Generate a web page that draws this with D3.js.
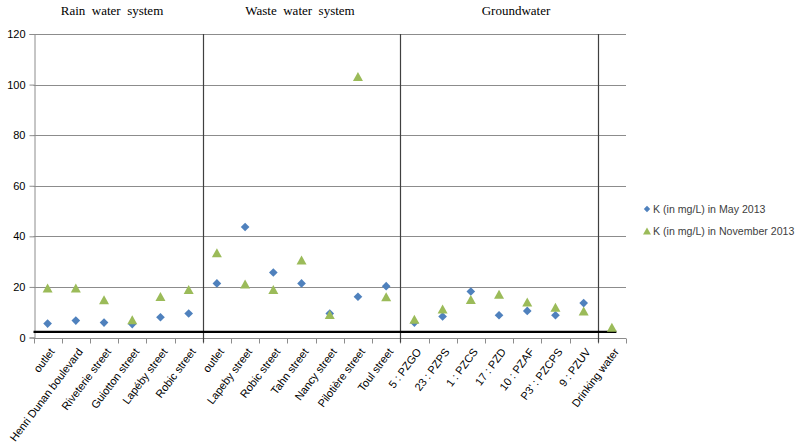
<!DOCTYPE html>
<html>
<head>
<meta charset="utf-8">
<script src="https://cdn.jsdelivr.net/npm/d3@7"></script>
<style>
  html, body { margin: 0; padding: 0; background: #fff; }
  svg { display: block; }
</style>
</head>
<body>
<svg id="chart" width="797" height="443"></svg>
<script>
const categories = ["outlet", "Henri Dunan boulevard", "Riveterie street", "Guiotton street", "Lapéby street", "Robic street",
  "outlet", "Lapeby street", "Robic street", "Tahn street", "Nancy street", "Pilotière street", "Toul street",
  "5 : PZGO", "23 : PZPS", "1 : PZCS", "17 : PZD", "10 : PZAF", "P3' : PZCPS", "9 : PZUV", "Drinking water"];
const mayValues = [5.5, 6.7, 5.9, 5.3, 8.0, 9.5,
  21.4, 43.7, 25.7, 21.4, 9.5, 16.1, 20.3,
  5.9, 8.3, 18.2, 8.8, 10.5, 8.8, 13.6, null];
const novValues = [19.6, 19.6, 14.9, 7.0, 16.2, 19.0,
  33.5, 21.2, 19.0, 30.6, 9.1, 103.2, 16.1,
  7.2, 11.3, 15.0, 17.1, 14.0, 12.0, 10.5, 4.1];
const groupTitles = ["Rain  water  system", "Waste  water  system", "Groundwater"];
const separatorIdx = [6, 13, 20];
const limitValue = 2.2;
const yTicks = [0, 20, 40, 60, 80, 100, 120];
const seriesNames = ["K (in mg/L) in May 2013", "K (in mg/L) in November 2013"];

(function () {
const svg = d3.select("#chart");
const pL = 33.5, pR = 626, pT = 34, pB = 337.5;
const idx = d3.range(categories.length);
const x = d3.scaleBand().domain(idx).range([pL, pR]).paddingInner(0).paddingOuter(0);
const y = d3.scaleLinear().domain([0, 120]).range([pB, pT]);
const bw = x.bandwidth();
const cx = i => x(i) + bw / 2;

const blue = "#4F81BD", green = "#9BBB59";
const labelFont = "'Liberation Sans', Arial, sans-serif";

// gridlines
svg.append("g").selectAll("line").data(yTicks.filter(d => d > 0)).join("line")
  .attr("x1", pL).attr("x2", pR)
  .attr("y1", d => Math.round(y(d)) + 0.5).attr("y2", d => Math.round(y(d)) + 0.5)
  .attr("stroke", "#8c8c8c").attr("stroke-width", 1);

// y axis
const yAxis = svg.append("g").attr("transform", `translate(${Math.round(pL) + 0.5},0)`)
  .call(d3.axisLeft(y).tickValues(yTicks).tickSize(5).tickPadding(4));
yAxis.select(".domain").attr("stroke", "#8c8c8c");
yAxis.selectAll(".tick line").attr("stroke", "#8c8c8c");
yAxis.selectAll(".tick text").attr("font-family", labelFont).attr("font-size", 11).attr("fill", "#000");

// x axis
const xAxisG = svg.append("g").attr("transform", `translate(0,${Math.round(pB) + 0.5})`);
xAxisG.append("line").attr("x1", pL).attr("x2", pR).attr("stroke", "#8c8c8c");
xAxisG.selectAll("line.tk").data(d3.range(categories.length + 1)).join("line").attr("class", "tk")
  .attr("x1", i => Math.round(i < categories.length ? x(i) : pR) + 0.5)
  .attr("x2", i => Math.round(i < categories.length ? x(i) : pR) + 0.5)
  .attr("y1", 0).attr("y2", 5).attr("stroke", "#8c8c8c");
xAxisG.selectAll("text").data(idx).join("text")
  .attr("transform", i => `translate(${cx(i) + 4.5},${11}) rotate(-53)`)
  .attr("text-anchor", "end").attr("dy", "0.35em")
  .attr("font-family", labelFont).attr("font-size", 11).attr("fill", "#000")
  .text(i => categories[i]);

// separators
svg.append("g").selectAll("line").data(separatorIdx).join("line")
  .attr("x1", i => Math.round(x(i)) + 0.5).attr("x2", i => Math.round(x(i)) + 0.5)
  .attr("y1", pT).attr("y2", pB + 5)
  .attr("stroke", "#404040").attr("stroke-width", 1.2);

// limit line
svg.append("line")
  .attr("x1", pL).attr("x2", x(categories.length - 1) + bw * 0.66)
  .attr("y1", y(limitValue)).attr("y2", y(limitValue))
  .attr("stroke", "#000").attr("stroke-width", 2.2);

// group titles
svg.append("g").selectAll("text").data(groupTitles).join("text")
  .attr("x", (d, k) => [112, 300, 516][k])
  .attr("y", 15).attr("text-anchor", "middle")
  .attr("font-family", "'Liberation Serif', 'Times New Roman', serif").attr("font-size", 13)
  .style("white-space", "pre")
  .text(d => d);

const diamond = d3.symbol().type(d3.symbolDiamond2).size(48);
const triangle = (s) => {
  const h = s * 0.9, w = s;
  return `M0,${-h / 2}L${w / 2},${h / 2}L${-w / 2},${h / 2}Z`;
};

// series: May
svg.append("g").selectAll("path").data(idx.filter(i => mayValues[i] != null)).join("path")
  .attr("transform", i => `translate(${cx(i)},${y(mayValues[i])})`)
  .attr("d", diamond()).attr("fill", blue);
// series: November
svg.append("g").selectAll("path").data(idx.filter(i => novValues[i] != null)).join("path")
  .attr("transform", i => `translate(${cx(i)},${y(novValues[i])})`)
  .attr("d", triangle(10)).attr("fill", green);

// legend
const legend = svg.append("g").attr("transform", "translate(647,209)");
const li = legend.selectAll("g").data(seriesNames).join("g")
  .attr("transform", (d, k) => `translate(0,${k * 22})`);
li.append("path").attr("d", (d, k) => k === 0 ? d3.symbol().type(d3.symbolDiamond2).size(26)() : triangle(8))
  .attr("fill", (d, k) => k === 0 ? blue : green);
li.append("text").attr("x", 6).attr("dy", "0.35em")
  .attr("font-family", labelFont).attr("font-size", 10.6).attr("fill", "#404040")
  .text(d => d);
})();
</script>
</body>
</html>
